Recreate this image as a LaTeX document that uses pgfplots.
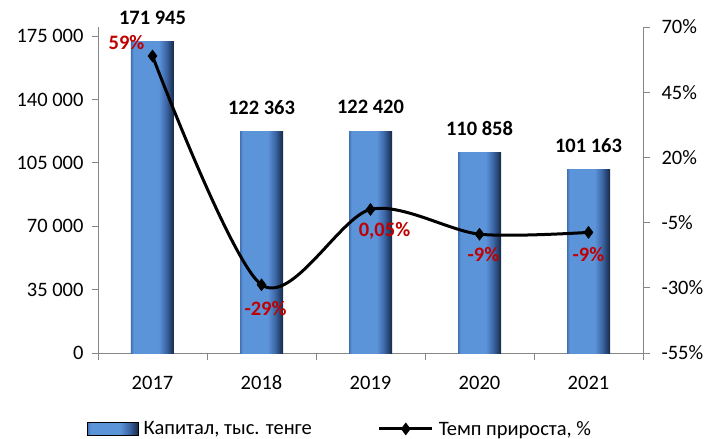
\documentclass[border=0pt]{standalone}
\usepackage{fontspec}
\setmainfont{Carlito}
\usepackage{pgfplots}
\usepackage{pgfplotstable}
\pgfplotsset{compat=1.18}

\definecolor{axisgray}{RGB}{134,134,134}
\definecolor{labred}{RGB}{192,0,0}
\definecolor{bA}{RGB}{66,112,178}
\definecolor{bB}{RGB}{92,148,218}
\definecolor{bC}{RGB}{60,102,165}
\definecolor{bD}{RGB}{22,40,70}
% stretched so that 25bp..75bp covers the bar
\pgfdeclarehorizontalshading{barshade}{100bp}{color(0bp)=(bA); color(25bp)=(bA);
  color(28bp)=(bB); color(57bp)=(bB); color(66bp)=(bC); color(75bp)=(bD); color(100bp)=(bD)}

\newcommand{\fs}{\fontsize{20.5bp}{24bp}\selectfont}

\pgfplotsset{
  linelegend/.style={legend image code/.code={
    \draw[mark repeat=2, mark phase=2, ##1] plot coordinates {(0bp,0bp) (26.5bp,0bp) (53bp,0bp)};}},
  capbar/.style={ybar, bar width=43bp, bar shift=0pt, draw=none, shade, shading=barshade},
}

% growth rate, %  (dx, dy = label offset)
\pgfplotstableread{
x g lab dx dy
1 58.9 59\% -26 13
2 -28.84 -29\% 4 -24
3 0.05 0,05\% 14 -21
4 -9.44 -9\% 4 -20
5 -8.75 -9\% 0 -22
}\growth

\begin{document}
\begin{tikzpicture}[font=\fs]
\path[use as bounding box] (-98bp,-86bp) rectangle (611bp,353bp);

\begin{axis}[
    scale only axis,
    width=545bp, height=326bp,
    xmin=0.5, xmax=5.5,
    ymin=0, ymax=180000,
    scaled y ticks=false,
    axis x line*=bottom, axis y line*=left,
    axis line style={-, axisgray, line width=0.9bp},
    xtick={1,2,3,4,5},
    xticklabels={2017,2018,2019,2020,2021},
    minor xtick={0.5,1.5,2.5,3.5,4.5,5.5},
    ytick={0,35000,70000,105000,140000,175000},
    yticklabels={0,35 000,70 000,105 000,140 000,175 000},
    tick align=outside,
    major tick length=6bp, minor tick length=7bp,
    tick style={axisgray, line width=0.9bp},
    major x tick style={draw=none},
    tick label style={font=\fs, text=black},
    yticklabel style={xshift=-5bp},
    xticklabel style={anchor=base, yshift=-30bp},
    point meta=explicit symbolic,
    nodes near coords={\textbf{\pgfplotspointmeta}},
    every node near coord/.append style={anchor=center, yshift=24bp,
        font=\fs, text=black},
]
% capital, thousand tenge
\addplot[capbar] coordinates {(1,171945) [171 945]};
\addplot[capbar] coordinates {(2,122363) [122 363]};
\addplot[capbar] coordinates {(3,122420) [122 420]};
\addplot[capbar] coordinates {(4,110858) [110 858]};
\addplot[capbar] coordinates {(5,101163) [101 163]};
\end{axis}

\begin{axis}[
    scale only axis,
    width=545bp, height=326bp,
    xmin=0.5, xmax=5.5,
    ymin=-55, ymax=70,
    axis x line=none, axis y line*=right,
    axis line style={-, axisgray, line width=0.9bp},
    ytick={-55,-30,-5,20,45,70},
    yticklabels={-55\%,-30\%,-5\%,20\%,45\%,70\%},
    tick align=outside, major tick length=7bp,
    tick style={axisgray, line width=0.9bp},
    tick label style={font=\fs, text=black},
    yticklabel style={xshift=8bp},
    legend columns=2,
    legend cell align=left,
    legend style={draw=none, fill=none,
        at={(0,0)}, anchor=north west, xshift=-14bp, yshift=-64bp,
        font=\fs,
        /tikz/every odd column/.append style={column sep=3bp},
        /tikz/every even column/.append style={column sep=64bp}},
]
\addlegendimage{legend image code/.code={
    \shade[shading=barshade] (0bp,-6.5bp) rectangle (51bp,6.5bp);}}
\addlegendentry{Капитал, тыс. тенге}

\addplot[black, line width=3bp, smooth,
    mark=diamond*, mark size=6bp, mark options={solid, line width=0.5bp},
    point meta=explicit symbolic,
    visualization depends on={\thisrow{dx} \as \dx},
    visualization depends on={\thisrow{dy} \as \dy},
    nodes near coords={\textbf{\pgfplotspointmeta}},
    every node near coord/.append style={anchor=center, xshift=\dx bp, yshift=\dy bp,
        text=labred, font=\fs},
    linelegend,
] table[x=x, y=g, meta=lab] {\growth};
\addlegendentry{Темп прироста, \%}
\end{axis}
\end{tikzpicture}
\end{document}
